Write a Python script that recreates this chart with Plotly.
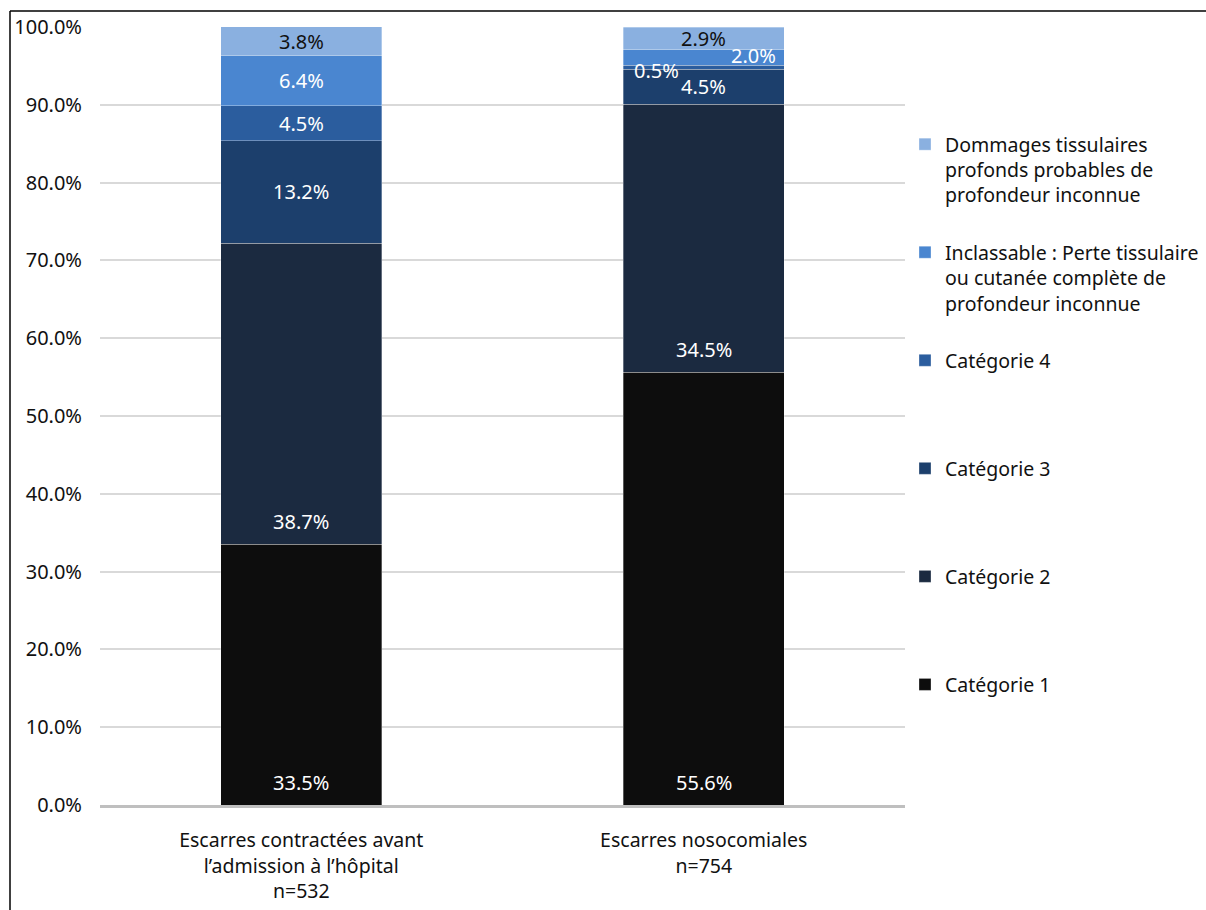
import plotly.graph_objects as go

categories = ["Escarres contractées avant<br>l’admission à l’hôpital<br>n=532",
              "Escarres nosocomiales<br>n=754"]
series_names = ["Catégorie 1", "Catégorie 2", "Catégorie 3", "Catégorie 4",
                "Inclassable : Perte tissulaire<br>ou cutanée complète de<br>profondeur inconnue",
                "Dommages tissulaires<br>profonds probables de<br>profondeur inconnue"]
cat1 = [33.5, 55.6]
cat2 = [38.7, 34.5]
cat3 = [13.2, 4.5]
cat4 = [4.5, 0.5]
inclassable = [6.4, 2.0]
dommages = [3.8, 2.9]
series_values = [cat1, cat2, cat3, cat4, inclassable, dommages]
y_ticks = [0, 10, 20, 30, 40, 50, 60, 70, 80, 90, 100]

colors = ["#0d0d0d", "#1b2a40", "#1c3f6c", "#2b5d9e", "#4a86d0", "#8ab0e0"]
text_colors = ["white", "white", "white", "white", "white", "#111111"]
FONT = "Noto Sans"

fig = go.Figure()
n = len(series_names)
for i, (name, vals) in enumerate(zip(series_names, series_values)):
    n_lines = name.count("<br>") + 1
    legend_name = name + "<br> " * (3 - n_lines)
    fig.add_trace(go.Bar(
        x=categories, y=vals, name=legend_name, legendgroup=str(i),
        legendrank=n - i,
        marker=dict(color=colors[i], line=dict(color="rgba(255,255,255,0.45)", width=0.7)),
        width=0.4,
    ))

# data labels
annotations = []
for ci, cat in enumerate(categories):
    base = 0.0
    for si, vals in enumerate(series_values):
        v = vals[ci]
        label = f"{v:.1f}%"
        xshift = 0
        if si in (0, 1):
            y = base
            yshift = 23
        else:
            y = base + v / 2
            yshift = 0
        if ci == 1 and si == 3:
            xshift = -47
            yshift = -3
        if ci == 1 and si == 4:
            xshift = 50
            yshift = 2
        annotations.append(dict(
            x=cat, y=y, xref="x", yref="y", text=label, showarrow=False,
            xshift=xshift, yshift=yshift, yanchor="middle",
            font=dict(family=FONT, size=20, color=text_colors[si]),
        ))
        base += v

W, H = 1206, 910
L, R, T, B = 100, 1206 - 905, 27, 910 - 805
pw, ph = W - L - R, H - T - B

def px_x(p):
    return (p - L) / pw

def px_y(p):
    return (H - B - p) / ph

shapes = [
    dict(type="line", xref="paper", yref="paper", x0=px_x(10), x1=px_x(10),
         y0=px_y(11), y1=px_y(915), line=dict(color="black", width=1.5)),
    dict(type="line", xref="paper", yref="paper", x0=px_x(10), x1=px_x(1215),
         y0=px_y(11), y1=px_y(11), line=dict(color="black", width=1.5)),
]

fig.update_layout(
    width=W, height=H,
    margin=dict(l=L, r=R, t=T, b=B, autoexpand=False),
    paper_bgcolor="white", plot_bgcolor="white",
    barmode="stack", bargap=0.6,
    font=dict(family=FONT, size=20, color="#111111"),
    annotations=annotations,
    shapes=shapes,
    legend=dict(
        x=px_x(905), y=px_y(125), xanchor="left", yanchor="top",
        traceorder="grouped", tracegroupgap=29, valign="top",
        font=dict(family=FONT, size=19.5, color="#111111"),
        itemwidth=30,
    ),
    showlegend=True,
)
fig.update_yaxes(
    range=[0, 100], tickvals=y_ticks, ticktext=[f"{t:.1f}%" for t in y_ticks],
    showgrid=True, gridcolor="#d9d9d9", gridwidth=1.5,
    zeroline=False, showline=False, ticks="",
    tickfont=dict(family=FONT, size=20, color="#111111"),
    ticklabelstandoff=17,
)
fig.update_xaxes(
    showline=True, linecolor="#bfbfbf", linewidth=3,
    showgrid=False, ticks="",
    tickfont=dict(family=FONT, size=19.5, color="#111111"),
    ticklabelstandoff=16,
)

fig.write_html("out.html")
